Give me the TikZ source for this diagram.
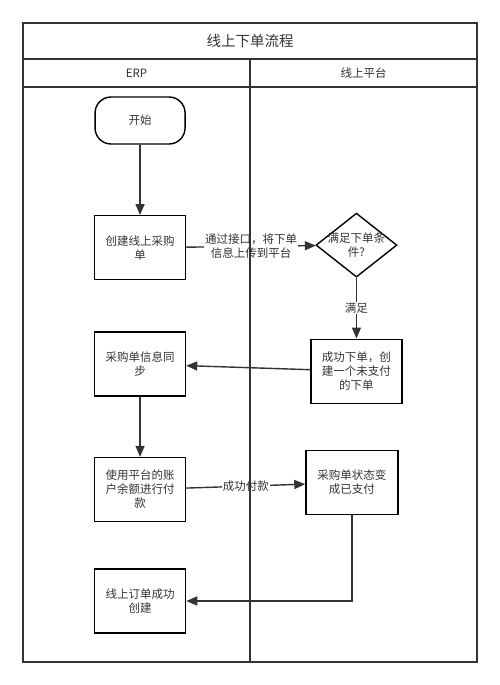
\documentclass[tikz,border=0pt]{standalone}
\usepackage{fontspec}
\setmainfont{Noto Sans CJK SC}
\usetikzlibrary{matrix,arrows.meta,shapes.geometric}
\definecolor{ink}{HTML}{333333}
\tikzset{
	stepbox/.style={draw, minimum width=91pt, minimum height=64pt, text width=75pt, align=center},
	startbox/.style={draw, rounded corners=16pt, minimum width=90pt, minimum height=47pt},
	decision/.style={draw, diamond, inner sep=0pt, minimum width=81pt, minimum height=64pt},
	lbl/.style={fill=white, inner sep=1pt, align=center}
}

\begin{document}
\begin{tikzpicture}[x=1pt, y=-1pt, line width=1.4pt, color=ink,
		>={Triangle[length=11pt,width=9pt]}, font=\fontsize{11.5}{14}\selectfont]
			\useasboundingbox (0,0) rectangle (500,685);
			\matrix (m) [matrix of nodes, row sep=46pt,
				column sep=119pt] at (248.25,365)
			{
				|[startbox]| 开始                                 &                                                                        \\[22pt]
				|[stepbox]| {创建线上采购\\单}                    & |[decision, label={[text width=62pt, align=center]center:{满足下单条\\件?}}]| {} \\[5pt]
				|[stepbox]| {采购单信息同\\步}                    & |[stepbox]| {成功下单，创\\建一个未支付\\的下单}                        \\
				|[stepbox]| {使用平台的账\\户余额进行付\\款}      & |[stepbox, minimum width=92pt, xshift=-4.5pt]| {采购单状态变\\成已支付} \\
				|[stepbox]| {线上订单成功\\创建}                  &                                                                        \\
			};
			\path[->]
			(m-1-1) edge (m-2-1)
			(m-2-1) edge node[lbl]{通过接口，将下单\\信息上传到平台} (m-2-2)
			(m-2-2) edge node[lbl]{满足} (m-3-2)
			(m-3-2) edge (m-3-1)
			(m-3-1) edge (m-4-1)
			(m-4-1) edge node[lbl]{成功付款} (m-4-2);
			\draw[->] (m-4-2) |- (m-5-1);
			\draw (23,23) rectangle (477,662);
			\draw (23,59) -- (477,59) (23,87) -- (477,87) (250,59) -- (250,662);
			\node[font=\fontsize{14.5}{17}\selectfont] (title) at (250,41) {线上下单流程};
			\node (erp) at (136.5,73) {ERP};
			\node (platform) at (363.5,73) {线上平台};
		\end{tikzpicture}
\end{document}
